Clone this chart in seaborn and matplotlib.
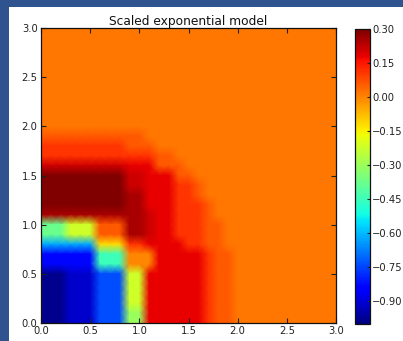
import numpy as np
import matplotlib
matplotlib.use("Agg")
import matplotlib.pyplot as plt
from matplotlib.patches import Rectangle
import seaborn as sns

# Model deviation sampled on a 0.1 grid over x, y in [0, 3].
# Each character is one grid value; rows run from y = 3.0 (top) down to y = 0.0.
level_codes = ["N", "n", "B", "b", "c", "T", "G", "g", "Y", "y",
               "o", ".", "p", "q", "r", "s", "D", "X"]
level_values = [-0.98, -0.91, -0.83, -0.74, -0.62, -0.45, -0.38, -0.30, -0.22, -0.12,
                0.00, 0.02, 0.06, 0.11, 0.18, 0.21, 0.25, 0.30]

grid_rows = [
    "...............................",  # 3.0
    "...............................",  # 2.9
    "...............................",  # 2.8
    "...............................",  # 2.7
    "...............................",  # 2.6
    "...............................",  # 2.5
    "...............................",  # 2.4
    "...............................",  # 2.3
    "...............................",  # 2.2
    "...............................",  # 2.1
    "...............................",  # 2.0
    "ppppppppppp....................",  # 1.9
    "qqqqqqqqqppp...................",  # 1.8
    "qqqqqqqqqqqqpp.................",  # 1.7
    "sssssssssrrrppp................",  # 1.6
    "XXXXXXXXXssrrrpp...............",  # 1.5
    "XXXXXXXXXssrrrqqp..............",  # 1.4
    "XXXXXXXXXDDrrrqqp..............",  # 1.3
    "XXXXXXXXXDDrrrqqqp.............",  # 1.2
    "DDDDDDDDDDDsrrqqqp.............",  # 1.1
    "GGGYYYpppDDsrrqqqpp............",  # 1.0
    "GGGYYYpppDDsrrqqqpp............",  # 0.9
    "ccccccyyyqqrrrrqqpp............",  # 0.8
    "BBBBBBTTTooorrrrrqpp...........",  # 0.7
    "BBBBBBTTTooorrrrrqpp...........",  # 0.6
    "NNNnnnbbbYYrrrrrrqpp...........",  # 0.5
    "NNNnnnbbbYYrrrrrrqpp...........",  # 0.4
    "NNNnnnbbbYYrrrrrrqpp...........",  # 0.3
    "NNNnnnbbbYYrrrrrrqpp...........",  # 0.2
    "NNNnnnbbbggrrrrrrqpp...........",  # 0.1
    "NNNnnnbbbggrrrrrrqpp...........",  # 0.0
]

axis_ticks = [0.0, 0.5, 1.0, 1.5, 2.0, 2.5, 3.0]
axis_tick_labels = ["0.0", "0.5", "1.0", "1.5", "2.0", "2.5", "3.0"]
cbar_ticks = [0.30, 0.15, 0.00, -0.15, -0.30, -0.45, -0.60, -0.75, -0.90]
title_text = "Scaled exponential model"

lookup = dict(zip(level_codes, level_values))
values = np.array([[lookup[ch] for ch in row] for row in grid_rows])
n = values.shape[0] - 1  # grid intervals per axis
step = 3.0 / n

W, H = 403, 341
fig = plt.figure(figsize=(W / 100, H / 100), dpi=100, facecolor="#2f538f")
fig.patches.append(Rectangle((9 / W, 0), 1, 1 - 7 / H, transform=fig.transFigure,
                             facecolor="white", edgecolor="none", zorder=-1))

ax = fig.add_axes([41 / W, (H - 323) / H, 295 / W, 295 / H])
sns.heatmap(values, cmap="jet", vmin=-1.0, vmax=0.3, cbar=False,
            shading="gouraud", ax=ax, xticklabels=False, yticklabels=False)
mesh = ax.collections[0]

ax.set_xlim(0, n)
ax.set_ylim(n, 0)
for side in ["left", "right", "top", "bottom"]:
    ax.spines[side].set_visible(True)
    ax.spines[side].set_color("#111111")
    ax.spines[side].set_linewidth(0.9)

ax.set_xticks([t / step for t in axis_ticks])
ax.set_xticklabels(axis_tick_labels)
ax.set_yticks([n - t / step for t in axis_ticks])
ax.set_yticklabels(axis_tick_labels, rotation=0)
ax.tick_params(direction="in", length=3.5, width=0.8, color="#222222",
               labelsize=7.2, labelcolor="#222222", pad=2.5,
               top=True, right=True, bottom=True, left=True)
ax.set_title(title_text, fontsize=8.8, color="#111111", pad=2.5)

cax = fig.add_axes([355 / W, (H - 324) / H, 15 / W, 295 / H])
cb = fig.colorbar(mesh, cax=cax, ticks=cbar_ticks)
cb.ax.set_yticklabels([f"{t:.2f}".replace("-", "\u2212") for t in cbar_ticks])
cb.ax.tick_params(direction="in", length=2.5, width=0.8, color="#222222",
                  labelsize=7.2, labelcolor="#222222", pad=1.5)
cb.outline.set_linewidth(0.9)
cb.outline.set_edgecolor("#111111")

fig.savefig("out.png", dpi=100)
